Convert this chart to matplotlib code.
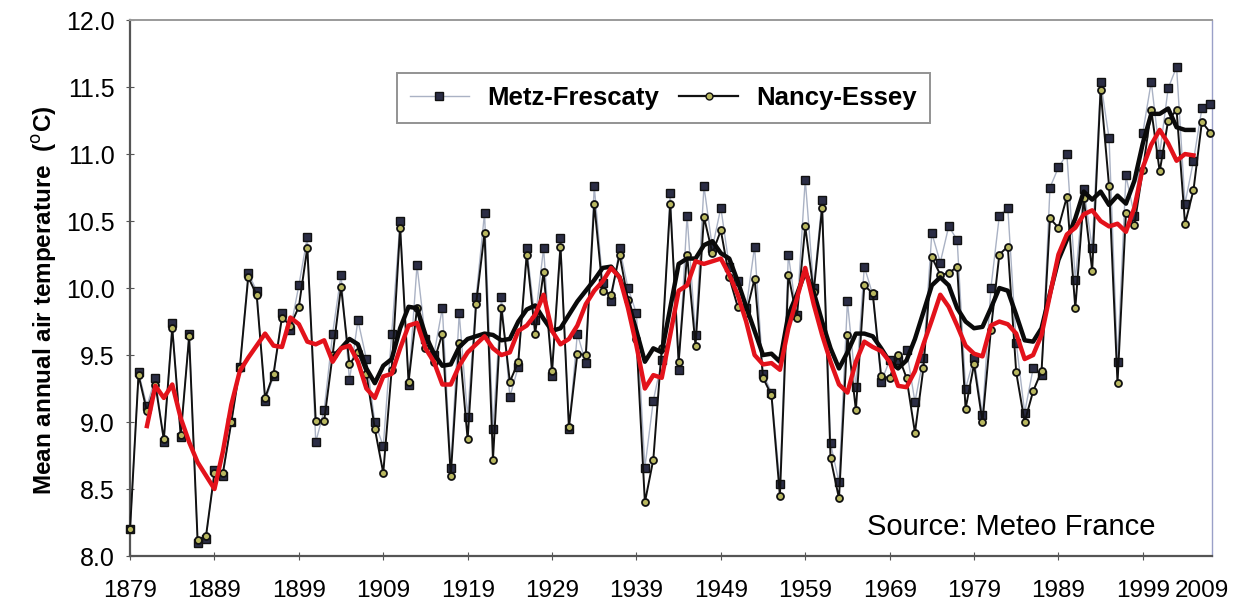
import matplotlib
matplotlib.use('Agg')
import matplotlib.pyplot as plt
from matplotlib.lines import Line2D

plt.rcParams['font.family'] = ['Liberation Sans', 'DejaVu Sans']

# annual means, 1879-2007
years = list(range(1879, 2008))

metz = [
    8.20, 9.37, 9.12, 9.33, 8.85, 9.74, 8.89, 9.66, 8.10, 8.13,
    8.64, 8.60, 9.00, 9.41, 10.11, 9.98, 9.16, 9.34, 9.81, 9.69,
    10.02, 10.38, 8.85, 9.09, 9.66, 10.10, 9.31, 9.76, 9.47, 9.00,
    8.82, 9.66, 10.50, 9.28, 10.17, 9.62, 9.50, 9.85, 8.66, 9.81,
    9.04, 9.93, 10.56, 8.95, 9.93, 9.19, 9.41, 10.30, 9.76, 10.30,
    9.34, 10.37, 8.95, 9.66, 9.44, 10.76, 10.04, 9.90, 10.30, 10.00,
    9.81, 8.66, 9.16, 9.46, 10.71, 9.39, 10.54, 9.65, 10.76, 10.30,
    10.60, 10.16, 10.05, 9.85, 10.31, 9.36, 9.22, 8.54, 10.25, 9.80,
    10.81, 10.00, 10.66, 8.84, 8.55, 9.90, 9.26, 10.16, 9.95, 9.30,
    9.46, 9.46, 9.54, 9.15, 9.48, 10.41, 10.19, 10.46, 10.36, 9.25,
    9.48, 9.05, 10.00, 10.54, 10.60, 9.59, 9.07, 9.40, 9.35, 10.75,
    10.90, 11.00, 10.06, 10.74, 10.30, 11.54, 11.12, 9.45, 10.84, 10.54,
    11.16, 11.54, 11.00, 11.49, 11.65, 10.63, 10.95, 11.34, 11.37,
]

nancy = [
    8.20, 9.35, 9.08, 9.28, 8.87, 9.70, 8.90, 9.64, 8.12, 8.15,
    8.62, 8.62, 9.00, 9.40, 10.08, 9.95, 9.18, 9.36, 9.78, 9.72,
    9.86, 10.30, 9.01, 9.01, 9.50, 10.01, 9.43, 9.52, 9.36, 8.95,
    8.62, 9.39, 10.45, 9.30, 9.85, 9.55, 9.45, 9.66, 8.60, 9.59,
    8.87, 9.88, 10.41, 8.72, 9.85, 9.30, 9.45, 10.25, 9.66, 10.12,
    9.38, 10.31, 8.96, 9.51, 9.50, 10.63, 9.98, 9.95, 10.25, 9.91,
    9.62, 8.40, 8.72, 9.55, 10.63, 9.45, 10.25, 9.57, 10.53, 10.26,
    10.43, 10.08, 9.86, 9.81, 10.07, 9.33, 9.20, 8.45, 10.10, 9.78,
    10.46, 9.97, 10.60, 8.73, 8.43, 9.65, 9.09, 10.02, 9.96, 9.34,
    9.33, 9.50, 9.33, 8.92, 9.40, 10.23, 10.10, 10.11, 10.16, 9.10,
    9.43, 9.00, 9.69, 10.25, 10.31, 9.37, 9.00, 9.23, 9.38, 10.52,
    10.45, 10.68, 9.85, 10.67, 10.13, 11.48, 10.76, 9.29, 10.56, 10.47,
    10.88, 11.33, 10.87, 11.25, 11.33, 10.48, 10.73, 11.24, 11.16,
]

# smoothed curves
red_years = list(range(1881, 2006))
red_smooth = [
    8.97, 9.27, 9.18, 9.28, 9.03, 8.85, 8.70, 8.60, 8.50, 8.78,
    9.13, 9.38, 9.48, 9.57, 9.66, 9.57, 9.56, 9.78, 9.73, 9.60,
    9.58, 9.61, 9.45, 9.55, 9.57, 9.45, 9.25, 9.18, 9.34, 9.36,
    9.55, 9.72, 9.74, 9.55, 9.45, 9.28, 9.28, 9.42, 9.52, 9.58,
    9.64, 9.55, 9.50, 9.52, 9.68, 9.72, 9.80, 9.95, 9.68, 9.58,
    9.62, 9.72, 9.88, 9.98, 10.05, 10.15, 10.08, 9.85, 9.57, 9.25,
    9.35, 9.33, 9.65, 9.98, 10.02, 10.20, 10.18, 10.20, 10.22, 10.10,
    9.95, 9.75, 9.50, 9.43, 9.44, 9.39, 9.70, 9.92, 10.15, 9.88,
    9.65, 9.45, 9.28, 9.22, 9.45, 9.60, 9.56, 9.53, 9.45, 9.27,
    9.26, 9.38, 9.58, 9.76, 9.95, 9.86, 9.72, 9.57, 9.51, 9.49,
    9.72, 9.75, 9.73, 9.66, 9.47, 9.50, 9.65, 9.95, 10.25, 10.40,
    10.45, 10.55, 10.58, 10.50, 10.46, 10.48, 10.42, 10.60, 10.90, 11.07,
    11.18, 11.08, 10.95, 11.00, 10.99,
]

black_years = list(range(1903, 2006))
black_smooth = [
    9.48, 9.55, 9.62, 9.58, 9.40, 9.29, 9.42, 9.47, 9.70, 9.86,
    9.85, 9.65, 9.51, 9.42, 9.43, 9.56, 9.62, 9.64, 9.66, 9.65,
    9.61, 9.62, 9.75, 9.84, 9.87, 9.77, 9.68, 9.70, 9.80, 9.90,
    9.98, 10.06, 10.15, 10.16, 10.08, 9.90, 9.68, 9.45, 9.55, 9.52,
    9.85, 10.18, 10.22, 10.22, 10.32, 10.35, 10.26, 10.22, 10.05, 9.86,
    9.68, 9.50, 9.51, 9.45, 9.80, 9.95, 10.12, 9.97, 9.75, 9.55,
    9.40, 9.52, 9.66, 9.66, 9.64, 9.55, 9.45, 9.40, 9.46, 9.62,
    9.82, 10.02, 10.08, 10.02, 9.85, 9.75, 9.70, 9.71, 9.85, 10.00,
    9.98, 9.80, 9.61, 9.60, 9.70, 9.96, 10.21, 10.36, 10.52, 10.72,
    10.66, 10.72, 10.62, 10.69, 10.63, 10.80, 11.08, 11.30, 11.30, 11.34,
    11.20, 11.18, 11.18,
]

tick_years = list(range(1879, 2000, 10))
y_ticks = [8.0, 8.5, 9.0, 9.5, 10.0, 10.5, 11.0, 11.5, 12.0]


fig = plt.figure(figsize=(12.53, 6.08), dpi=100)
ax = fig.add_axes([0.1038, 0.0855, 0.8635, 0.8815])

ax.plot(years, metz, color='#aab2c4', lw=1.0, marker='s', ms=5.5,
        mfc='#2b2d45', mec='#111111', mew=1.0, clip_on=False, zorder=3)
ax.plot(years, nancy, color='#111111', lw=1.4, marker='o', ms=5,
        mfc='#b9b860', mec='#111111', mew=1.3, clip_on=False, zorder=4)
ax.plot(black_years, black_smooth, color='#0a0a0a', lw=3.2, zorder=5)
ax.plot(red_years, red_smooth, color='#e3121b', lw=3.2, zorder=6)

ax.set_xlim(1879, 2007.2)
ax.set_ylim(8.0, 12.0)
ax.set_yticks(y_ticks)
ax.set_yticklabels(['%.1f' % v for v in y_ticks])
ax.set_xticks(tick_years)
ax.set_xticklabels([str(y) for y in tick_years])
ax.annotate('2009', xy=(1.0, 0), xycoords='axes fraction',
            xytext=(-7, -17), textcoords='offset points',
            ha='center', va='top', fontsize=17.5)

ax.tick_params(axis='y', labelsize=18, color='#555555',
               direction='inout', length=6, pad=8)
ax.tick_params(axis='x', labelsize=17.5, color='#555555',
               direction='inout', length=6, pad=14)

for side in ['left', 'bottom']:
    ax.spines[side].set_color('#555555')
    ax.spines[side].set_linewidth(1.6)
ax.spines['top'].set_color('#9a9a9a')
ax.spines['top'].set_linewidth(1.4)
ax.spines['right'].set_color('#9aa0c8')
ax.spines['right'].set_linewidth(1.0)

ax.set_ylabel('Mean annual air temperature  ($^{\\rm o}$C)',
              fontsize=17.5, fontweight='bold')
ax.yaxis.set_label_coords(-0.066, 0.478)

handles = [
    Line2D([], [], color='#aab2c4', lw=1.0, marker='s', ms=5.5,
           mfc='#2b2d45', mec='#111111'),
    Line2D([], [], color='#111111', lw=1.6, marker='o', ms=5,
           mfc='#b9b860', mec='#111111'),
]
leg = ax.legend(handles, ['Metz-Frescaty', 'Nancy-Essey'], ncol=2,
                loc='center', bbox_to_anchor=(0.493, 0.855),
                prop={'weight': 'bold', 'size': 18.5},
                frameon=True, fancybox=False, handlelength=2.3,
                handletextpad=0.7, columnspacing=0.8, borderpad=0.5)
leg.get_frame().set_edgecolor('#777777')
leg.get_frame().set_linewidth(1.4)

ax.text(0.681, 0.054, 'Source: Meteo France', transform=ax.transAxes,
        fontsize=21, ha='left', va='center')

fig.savefig('out.png', dpi=100)
